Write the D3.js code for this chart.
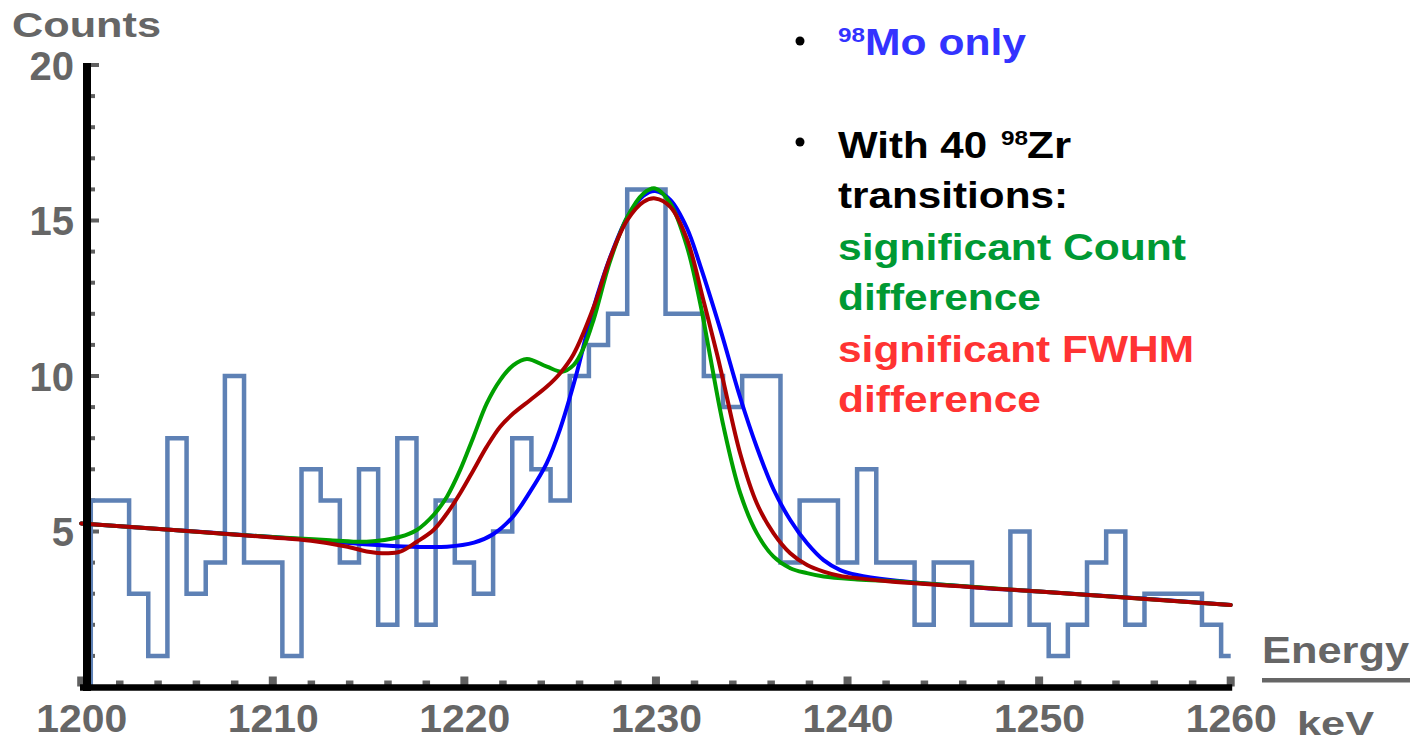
<!DOCTYPE html>
<html><head><meta charset="utf-8">
<script src="https://cdn.jsdelivr.net/npm/d3@7"></script>
<style>html,body{margin:0;padding:0;background:#fff;} svg{display:block;}</style>
</head><body><svg id="c" width="1411" height="743"></svg>
<script>
// ---- data ----
const binCenters = [1201,1202,1203,1204,1205,1206,1207,1208,1209,1210,1211,1212,1213,1214,1215,1216,1217,1218,1219,1220,
  1221,1222,1223,1224,1225,1226,1227,1228,1229,1230,1231,1232,1233,1234,1235,1236,1237,1238,1239,1240,
  1241,1242,1243,1244,1245,1246,1247,1248,1249,1250,1251,1252,1253,1254,1255,1256,1257,1258,1259,1260];
const binCounts = [6,6,3,1,8,3,4,10,4,4,1,7,6,4,7,2,8,2,6,4,3,5,8,7,6,10,11,12,16,16,12,12,10,9,10,10,4,6,6,4,7,4,4,2,4,4,2,2,5,2,1,2,4,5,2,3,3,3,2,1];
const xTicks = [1200,1210,1220,1230,1240,1250,1260];
const xMinorTicks = [1202,1204,1206,1208,1212,1214,1216,1218,1222,1224,1226,1228,1232,1234,1236,1238,1242,1244,1246,1248,1252,1254,1256,1258];
const yTicks = [5,10,15,20];
const yMinorTicks = [1,2,3,4,6,7,8,9,11,12,13,14,16,17,18,19];

// Mo-only fit (blue)
const moOnly = [[1200,5.26],[1205,5.04],[1210,4.82],[1213,4.68],[1215,4.58],[1217.3,4.51],[1219.1,4.51],[1220.5,4.64],
  [1221.5,4.91],[1222.5,5.45],[1223.4,6.25],[1224.3,7.2],[1225.0,8.3],[1225.8,9.95],[1226.7,12.1],[1227.6,13.8],
  [1228.5,15.1],[1229.35,15.8],[1229.96,15.95],[1230.75,15.66],[1231.62,14.75],[1232.31,13.55],[1233.36,11.5],
  [1234.4,9.3],[1235.27,7.7],[1236.14,6.35],[1237.01,5.37],[1237.89,4.62],[1238.75,4.08],[1239.62,3.76],
  [1240.5,3.6],[1242.23,3.44],[1247.46,3.17],[1250,3.07],[1255,2.86],[1260,2.64]];
// significant Count difference (green)
const countDiff = [[1200,5.26],[1205,5.04],[1210,4.82],[1213,4.72],[1214.9,4.67],[1216.65,4.83],[1217.52,5.05],
  [1218.39,5.53],[1219.09,6.12],[1219.78,6.98],[1220.48,8.05],[1221.17,9.12],[1221.87,9.87],[1222.56,10.35],
  [1223.26,10.55],[1224.31,10.3],[1225.09,10.14],[1225.7,10.35],[1226.22,10.9],[1226.74,11.8],[1227.61,13.7],
  [1228.49,15.1],[1229.35,15.87],[1229.96,16.03],[1230.75,15.55],[1231.62,14.16],[1232.31,12.34],[1232.75,10.9],
  [1233.53,8.37],[1234.4,6.23],[1235.27,4.94],[1236.14,4.19],[1237.01,3.82],[1237.89,3.66],[1238.75,3.55],
  [1240.5,3.46],[1243,3.38],[1250,3.07],[1260,2.64]];
// significant FWHM difference (dark red)
const fwhmDiff = [[1200,5.26],[1205,5.04],[1210,4.81],[1212,4.7],[1213.9,4.51],[1214.9,4.36],[1216,4.3],[1216.65,4.35],
  [1217.52,4.67],[1218.39,5.05],[1219.09,5.58],[1219.78,6.23],[1220.48,6.98],[1221.17,7.73],[1221.87,8.37],
  [1222.56,8.8],[1223.44,9.23],[1224.31,9.66],[1225.0,10.09],[1225.7,10.7],[1226.74,12.2],[1227.61,13.8],
  [1228.49,15.0],[1229.35,15.6],[1229.96,15.71],[1230.75,15.44],[1231.62,14.4],[1232.49,12.4],[1233.19,10.7],
  [1233.53,9.8],[1234.4,7.5],[1235.27,5.9],[1236.14,4.94],[1237.01,4.3],[1237.89,3.92],[1238.75,3.71],
  [1239.62,3.57],[1240.5,3.5],[1242.23,3.39],[1250,3.07],[1260,2.64]];

// ---- drawing ----
const FONT = "'Liberation Sans', Arial, Helvetica, sans-serif";
const svg = d3.select("#c");
const x = d3.scaleLinear().domain([1200,1260]).range([81.2,1230.7]);
const y = d3.scaleLinear().domain([0,20]).range([687,65]);

// gray ticks (underneath black axis lines)
const tickColor = "#606060";
svg.append("g").selectAll("rect").data(yMinorTicks).join("rect")
  .attr("x",86).attr("y",d=>y(d)-2).attr("width",9).attr("height",4).attr("fill",tickColor);
svg.append("g").selectAll("rect").data(yTicks).join("rect")
  .attr("x",86).attr("y",d=>y(d)-2).attr("width",13).attr("height",4).attr("fill",tickColor);
svg.append("g").selectAll("rect").data(xMinorTicks).join("rect")
  .attr("x",d=>x(d)-3.5).attr("y",680.5).attr("width",7.5).attr("height",6).attr("fill",tickColor);
svg.append("g").selectAll("rect").data(xTicks).join("rect")
  .attr("x",d=>x(d)-4).attr("y",676.5).attr("width",8).attr("height",10).attr("fill",tickColor);

// histogram
const histPts = [[binCenters[0]-0.5,0]].concat(binCenters.map((c,i)=>[c-0.5,binCounts[i]]))
  .concat([[1260,binCounts[binCounts.length-1]]]);
svg.append("path").datum(histPts)
  .attr("d", d3.line().x(d=>x(d[0])).y(d=>y(d[1])).curve(d3.curveStepAfter))
  .attr("fill","none").attr("stroke","#5e81b5").attr("stroke-width",4.5).attr("stroke-linejoin","miter");

// fits
const fitLine = d3.line().x(d=>x(d[0])).y(d=>y(d[1])).curve(d3.curveCatmullRom.alpha(0.5));
[[moOnly,"#0000ff"],[countDiff,"#00a000"],[fwhmDiff,"#aa0000"]].forEach(([data,col])=>{
  svg.append("path").datum(data).attr("d",fitLine)
    .attr("fill","none").attr("stroke",col).attr("stroke-width",4).attr("stroke-linecap","round");
});

// black axis lines
svg.append("line").attr("x1",87).attr("x2",87).attr("y1",y(20)-2).attr("y2",691)
  .attr("stroke","#000").attr("stroke-width",8);
svg.append("line").attr("x1",80).attr("x2",x(1260)+1.5).attr("y1",687.5).attr("y2",687.5)
  .attr("stroke","#000").attr("stroke-width",6.5);

// tick labels
const labelColor = "#666666";
const yAxis = svg.append("g").attr("transform","translate(74,0)")
  .call(d3.axisLeft(y).tickValues(yTicks).tickSize(0).tickPadding(0).tickFormat(d3.format("d")));
yAxis.select(".domain").remove();
yAxis.selectAll("text").attr("font-family",FONT).attr("font-weight","bold").attr("font-size",40)
  .attr("fill",labelColor).attr("dy","0.36em");
const xAxis = svg.append("g").attr("transform","translate(0,732)")
  .call(d3.axisBottom(x).tickValues(xTicks).tickSize(0).tickPadding(0).tickFormat(d3.format("d")));
xAxis.select(".domain").remove();
xAxis.selectAll("text").attr("font-family",FONT).attr("font-weight","bold").attr("font-size",38)
  .attr("fill",labelColor).attr("y",0).attr("dy",0)
  .attr("textLength",91).attr("lengthAdjust","spacingAndGlyphs");

function txt(px, py, s, size, color, len, anchor){
  const t = svg.append("text").attr("x",px).attr("y",py).text(s)
    .attr("font-family",FONT).attr("font-weight","bold").attr("font-size",size).attr("fill",color);
  if (len) t.attr("textLength",len).attr("lengthAdjust","spacingAndGlyphs");
  if (anchor) t.attr("text-anchor",anchor);
  return t;
}
// axis titles
txt(12, 37, "Counts", 35, labelColor, 149);
txt(1262, 663, "Energy", 36, labelColor, 147);
svg.append("rect").attr("x",1262).attr("y",678).attr("width",148).attr("height",4.5).attr("fill",labelColor);
txt(1297, 735, "keV", 33, labelColor, 77);

// legend text
const blueT = "#3333ff", greenT = "#009933", redT = "#ff3333";
svg.append("circle").attr("cx",800).attr("cy",41).attr("r",4.5).attr("fill","#000");
svg.append("circle").attr("cx",800).attr("cy",142).attr("r",4.5).attr("fill","#000");
txt(838, 42, "98", 21, blueT, 27);
txt(865, 55, "Mo only", 36, blueT, 161);
txt(838, 158, "With 40", 36, "#000", 149);
txt(1001, 145, "98", 21, "#000", 27);
txt(1027, 158, "Zr", 36, "#000", 44);
txt(838, 208, "transitions:", 36, "#000", 230);
txt(838, 260, "significant Count", 36, greenT, 348);
txt(838, 310, "difference", 36, greenT, 203);
txt(838, 362, "significant FWHM", 36, redT, 356);
txt(838, 412, "difference", 36, redT, 203);
</script></body></html>
